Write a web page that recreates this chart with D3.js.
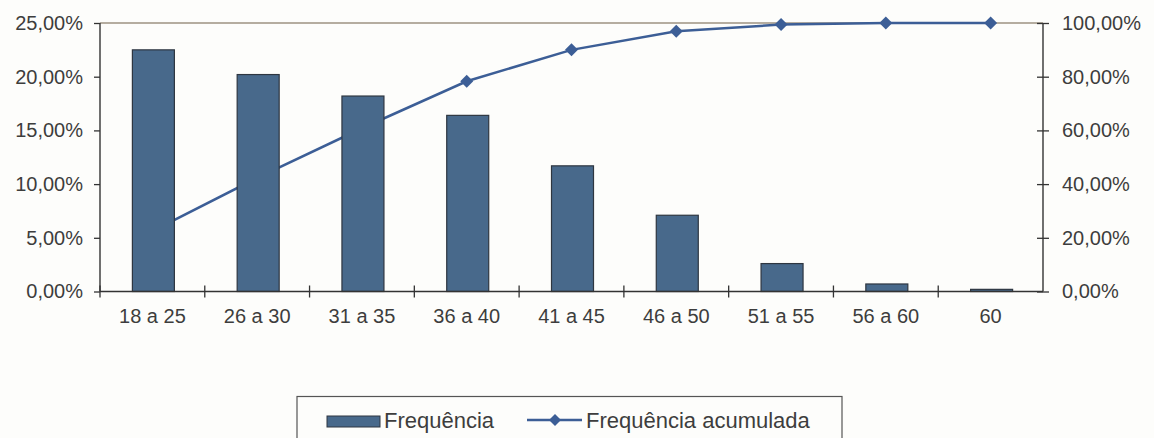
<!DOCTYPE html>
<html><head><meta charset="utf-8">
<script src="https://cdn.jsdelivr.net/npm/d3@7"></script>
<style>
html,body{margin:0;padding:0;background:#fdfdfb;}
svg{display:block;font-family:"Liberation Sans",Arial,sans-serif;}
</style></head>
<body>
<svg id="chart" width="1154" height="438"></svg>
<script>
const categories = ["18 a 25","26 a 30","31 a 35","36 a 40","41 a 45","46 a 50","51 a 55","56 a 60","60"];
const frequencia = [22.5, 20.2, 18.2, 16.4, 11.7, 7.1, 2.6, 0.7, 0.2];
const acumulada = [22.5, 42.3, 60.8, 78.3, 90.0, 96.9, 99.4, 100.0, 100.0];
const leftTicks = [0, 5, 10, 15, 20, 25];
const rightTicks = [0, 20, 40, 60, 80, 100];
const seriesNames = ["Frequência", "Frequência acumulada"];

const svg = d3.select("#chart");
const L = 100, R = 1043, T = 23, B = 291.5;
const barColor = "#48698b", lineColor = "#3c5e96", textColor = "#3d3d3d";
const fmt = v => v.toFixed(2).replace(".", ",") + "%";

const x = d3.scaleBand().domain(categories).range([L, R]).paddingInner(0).paddingOuter(0);
const yL = d3.scaleLinear().domain([0, 25]).range([B, T]);
const yR = d3.scaleLinear().domain([0, 100]).range([B, T]);

// top border of plot
svg.append("line").attr("x1", L).attr("x2", R).attr("y1", T).attr("y2", T)
  .attr("stroke", "#9c9282").attr("stroke-width", 1.6);

// cumulative line (behind bars)
const line = d3.line().x((d, i) => x(categories[i]) + x.bandwidth() / 2).y(d => yR(d));
svg.append("path").datum(acumulada).attr("d", line)
  .attr("fill", "none").attr("stroke", lineColor).attr("stroke-width", 2.5);
svg.selectAll(".mk").data(acumulada).enter().append("path")
  .attr("transform", (d, i) => `translate(${x(categories[i]) + x.bandwidth() / 2},${yR(d)})`)
  .attr("d", "M0,-6.5L6.5,0L0,6.5L-6.5,0Z").attr("fill", lineColor);

// bars
const bw = 42;
svg.selectAll(".bar").data(frequencia).enter().append("rect")
  .attr("x", (d, i) => x(categories[i]) + x.bandwidth() / 2 - bw / 2 + 1)
  .attr("width", bw)
  .attr("y", d => yL(d))
  .attr("height", d => B - yL(d))
  .attr("fill", barColor).attr("stroke", "#2e3640").attr("stroke-width", 1.2);

// left axis
const gL = svg.append("g").attr("transform", `translate(${L},0)`)
  .call(d3.axisLeft(yL).tickValues(leftTicks).tickFormat(fmt).tickSize(6).tickPadding(11));
// right axis
const gR = svg.append("g").attr("transform", `translate(${R},0)`)
  .call(d3.axisRight(yR).tickValues(rightTicks).tickFormat(fmt).tickSize(6).tickPadding(13));
gR.selectAll(".tick line").attr("x1", -6);
// bottom axis
const gB = svg.append("g").attr("transform", `translate(0,${B})`)
  .call(d3.axisBottom(x).tickSize(0).tickPadding(17));
gB.selectAll(".tick line").remove();
const bounds = categories.map(c => x(c));
gB.selectAll(".bt").data(bounds).enter().append("line")
  .attr("x1", d => d).attr("x2", d => d).attr("y1", -6).attr("y2", 6)
  .attr("stroke", "#333").attr("stroke-width", 1.3);

[gL, gR, gB].forEach(g => {
  g.select(".domain").attr("stroke", "#333").attr("stroke-width", 1.4);
  g.selectAll(".tick line").attr("stroke", "#333").attr("stroke-width", 1.3);
  g.selectAll("text").attr("fill", textColor).style("font-size", "20px")
    .style("font-family", "'Liberation Sans',Arial,sans-serif");
});
gL.select(".domain").attr("d", `M0,${T}V${B}`);
gR.select(".domain").attr("d", `M0,${T}V${B}`);
gB.select(".domain").attr("d", `M${L},0H${R}`);

// legend
const lg = svg.append("g");
lg.append("rect").attr("x", 297).attr("y", 396.5).attr("width", 545).attr("height", 60)
  .attr("fill", "none").attr("stroke", "#555").attr("stroke-width", 1.2);
lg.append("rect").attr("x", 327).attr("y", 416).attr("width", 53).attr("height", 11)
  .attr("fill", barColor).attr("stroke", "#2e3640").attr("stroke-width", 1);
lg.append("text").attr("x", 384).attr("y", 427.5).text(seriesNames[0])
  .attr("fill", textColor).style("font-size", "22px");
lg.append("line").attr("x1", 527).attr("x2", 582).attr("y1", 420).attr("y2", 420)
  .attr("stroke", lineColor).attr("stroke-width", 2.5);
lg.append("path").attr("transform", "translate(555,420)")
  .attr("d", "M0,-6L6,0L0,6L-6,0Z").attr("fill", lineColor);
lg.append("text").attr("x", 586).attr("y", 427.5).text(seriesNames[1])
  .attr("fill", textColor).style("font-size", "22px");
</script>
</body></html>
